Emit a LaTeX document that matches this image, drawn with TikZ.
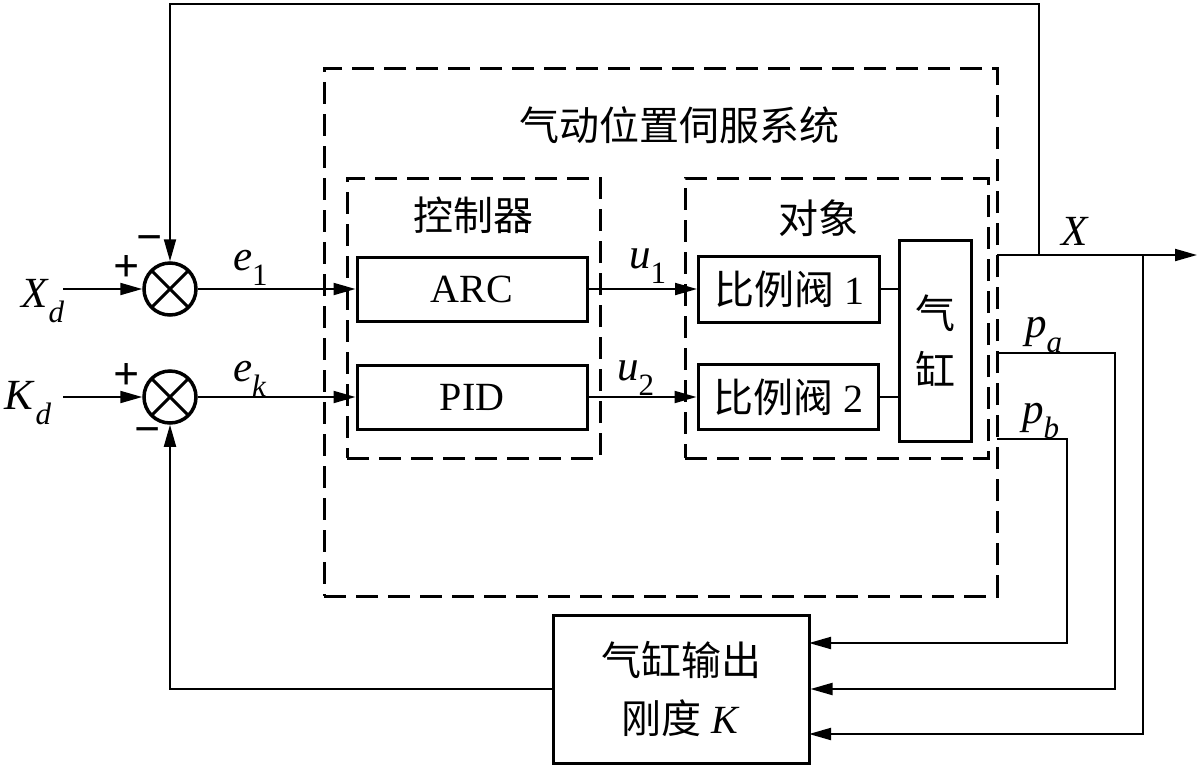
\documentclass[tikz,border=0pt]{standalone}
\usepackage{fontspec}
\setmainfont{Liberation Serif}
\newfontfamily\cjk{Noto Sans CJK SC}
\usetikzlibrary{arrows.meta}
\newcommand{\mysub}[1]{\raisebox{-0.36em}{\fontsize{31}{31}\selectfont #1}}
\begin{document}
\begin{tikzpicture}[x=1pt,y=-1pt,
  line width=2pt,
  arr/.style={-{Triangle[length=22pt,width=12pt]}},
  every node/.style={font=\fontsize{40}{48}\selectfont},
  blk/.style={draw,line width=3pt,inner sep=0pt},
  dbox/.style={draw,line width=3pt,dash pattern=on 22pt off 10pt,inner sep=0pt},
  sum/.style={draw,circle,line width=3.5pt,minimum size=52pt,inner sep=0pt,
    path picture={\draw[line width=3pt]
      (path picture bounding box.north west)--(path picture bounding box.south east)
      (path picture bounding box.north east)--(path picture bounding box.south west);}},
  lab/.style={inner sep=0pt,anchor=base west,font=\fontsize{43}{48}\selectfont},
  sign/.style={inner sep=0pt,font=\fontsize{46}{48}\selectfont\bfseries}]
\useasboundingbox (0,0) rectangle (1200,780);
% dashed frames
\node[dbox,minimum width=673pt,minimum height=528pt] (sys) at (660.5,332) {};
\node[dbox,minimum width=253pt,minimum height=280pt] (ctrl) at (473.5,318) {};
\node[dbox,minimum width=303pt,minimum height=280pt] (obj) at (836.5,318) {};
\node (systitle) at (679,125) {\cjk 气动位置伺服系统};
\node (ctitle) at (473,215) {\cjk 控制器};
\node (otitle) at (818,218) {\cjk 对象};
% blocks
\node[blk,minimum width=230pt,minimum height=64pt] (arc) at (472,289) {ARC};
\node[blk,minimum width=230pt,minimum height=64pt] (pid) at (472,397) {PID};
\node[blk,minimum width=181pt,minimum height=66pt] (v1) at (789,289) {{\cjk 比例阀} 1};
\node[blk,minimum width=180pt,minimum height=65pt] (v2) at (788,397) {{\cjk 比例阀} 2};
\node[blk,minimum width=72pt,minimum height=201pt,align=center,font=\fontsize{40}{57}\selectfont\cjk] (cyl) at (935,340.5) {气\\缸};
\node[blk,minimum width=256pt,minimum height=148pt,align=center,font=\fontsize{40}{58}\selectfont] (kb) at (681,689) {{\cjk 气缸输出}\\{\cjk 刚度} \textit{K}};
% summing junctions
\node[sum] (s1) at (170,289) {};
\node[sum] (s2) at (170,397) {};
% labels
\node[lab] (xd) at (20,307) {\textit{X}\mysub{\textit{d}}};
\node[lab] (kd) at (4,409) {\textit{K}\mysub{\textit{d}}};
\node[lab] (e1) at (232,270) {\textit{e}\mysub{1}};
\node[lab] (ek) at (232,381) {\textit{e}\mysub{\textit{k}}};
\node[lab] (u1) at (628,268) {\textit{u}\mysub{1}};
\node[lab] (u2) at (616,380) {\textit{u}\mysub{2}};
\node[lab] (xl) at (1060,245) {\textit{X}};
\node[lab] (pal) at (1024,337) {\textit{p}\mysub{\textit{a}}};
\node[lab] (pbl) at (1021,423) {\textit{p}\mysub{\textit{b}}};
\node[sign] (pl1) at (127,268) {+};
\node[sign] (mi1) at (150,244) {−};
\node[sign] (pl2) at (127,376) {+};
\node[sign] (mi2) at (148,436) {−};
% coordinates
\coordinate (xin) at (63,289);
\coordinate (kin) at (63,397);
\coordinate (xs) at (997,255);
\coordinate (xe) at (1197,255);
\coordinate (tb) at (1039,255);
\coordinate (tc) at (170,4);
\coordinate (pas) at (997,353);
\coordinate (pac) at (1115,353);
\coordinate (pbs) at (997,439);
\coordinate (pbc) at (1067,439);
\coordinate (pbin) at (809,643);
\coordinate (xb) at (1143,255);
\coordinate (xin2) at (809,734);
% connectors
\draw[arr] (xin) -- (s1);
\draw[arr] (kin) -- (s2);
\draw[arr] (s1) -- (arc);
\draw[arr] (s2) -- (pid);
\draw[arr] (arc) -- (v1);
\draw[arr] (pid) -- (v2);
\draw (v1.east) -- (v1.east -| cyl.west);
\draw (v2.east) -- (v2.east -| cyl.west);
\draw[arr] (xs) -- (xe);
\draw[arr] (tb) |- (tc) -- (s1);
\draw[arr] (pas) -- (pac) |- (kb.east);
\draw[arr] (pbs) -- (pbc) |- (pbin);
\draw[arr] (xb) |- (xin2);
\draw[arr] (kb.west) -| (s2);
\end{tikzpicture}
\end{document}
